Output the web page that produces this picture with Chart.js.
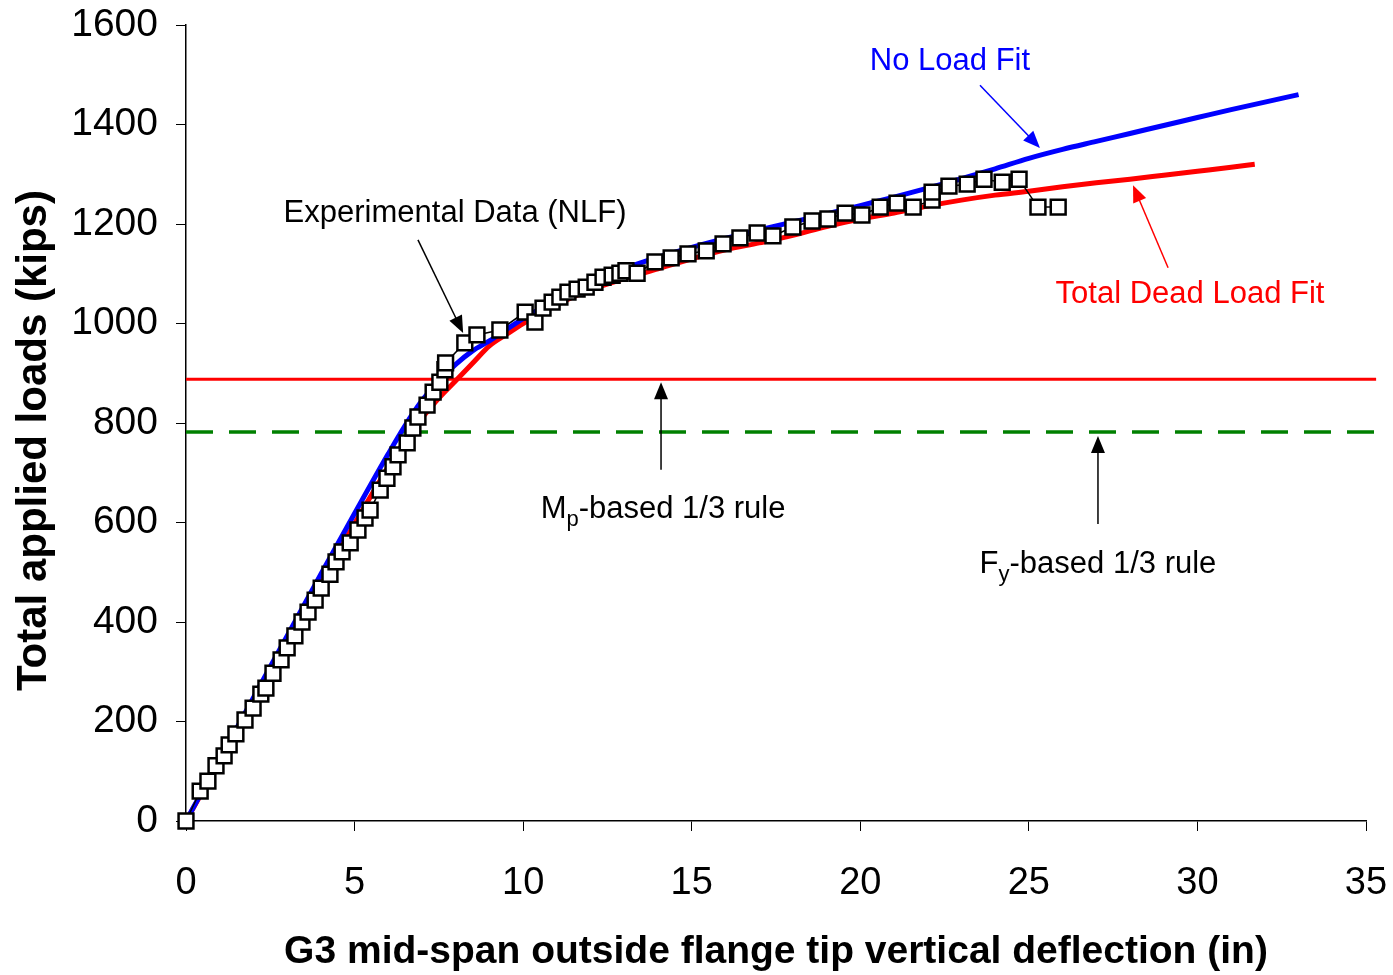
<!DOCTYPE html>
<html>
<head>
<meta charset="utf-8">
<script src="https://cdn.jsdelivr.net/npm/chart.js@4/dist/chart.umd.min.js"></script>
<style>
  html, body { margin: 0; padding: 0; background: #fff; }
  canvas { display: block; }
</style>
</head>
<body>
<canvas id="deflection" width="1393" height="975"></canvas>
<script>
// measured load vs. deflection (NLF test)
var expDeflection = [0, 0.42, 0.65, 0.89, 1.13, 1.28, 1.48, 1.75, 1.99, 2.22, 2.37, 2.58, 2.82, 3.00, 3.23, 3.44, 3.62, 3.83, 4.01, 4.27,
    4.45, 4.63, 4.87, 5.10, 5.31, 5.46, 5.76, 5.96, 6.14, 6.29, 6.56, 6.73, 6.88, 7.15, 7.33, 7.53, 7.68, 7.70, 8.27, 8.63,
    9.31, 10.06, 10.35, 10.59, 10.86, 11.09, 11.33, 11.60, 11.87, 12.13, 12.37, 12.64, 12.87, 13.05, 13.38, 13.91, 14.39, 14.89, 15.43, 15.93,
    16.43, 16.94, 17.41, 18.00, 18.57, 19.04, 19.55, 20.05, 20.59, 21.09, 21.57, 22.13, 22.13, 22.63, 23.17, 23.67, 24.21, 24.71, 25.27, 25.87];
var expLoad = [0, 60, 80, 111, 131, 153, 175, 203, 227, 255, 267, 297, 324, 348, 372, 400, 420, 444, 468, 496,
    521, 541, 559, 585, 609, 625, 665, 689, 712, 736, 760, 790, 812, 836, 862, 882, 907, 921, 961, 977,
    987, 1023, 1003, 1031, 1043, 1053, 1063, 1069, 1073, 1083, 1093, 1097, 1101, 1106, 1101, 1124, 1132, 1140, 1146, 1160,
    1172, 1182, 1176, 1194, 1206, 1210, 1222, 1218, 1234, 1242, 1234, 1248, 1264, 1276, 1280, 1290, 1284, 1290, 1234, 1234];

// no load fit
var noLoadDeflection = [0, 1, 2, 3, 4, 5, 6, 6.5, 7, 7.5, 8, 8.5, 9, 9.5, 10, 11, 12, 13, 14, 15,
    16, 17, 18, 19, 20, 21, 22, 23, 24, 25, 26, 27, 28, 29, 30, 31, 32, 33];
var noLoadLoad = [0, 124, 248, 372, 496, 618, 738, 795, 845, 885, 918, 945, 965, 988, 1010, 1048, 1080, 1110, 1133, 1153,
    1171, 1188, 1204, 1220, 1237, 1254, 1272, 1291, 1311, 1332, 1350, 1366, 1382, 1398, 1414, 1430, 1445, 1460];

// total dead load fit
var deadLoadDeflection = [0, 1, 2, 3, 4, 5, 5.5, 6, 6.5, 7, 7.5, 8, 8.5, 9, 9.5, 10, 11, 12, 13, 14,
    15, 16, 17, 18, 19, 20, 21, 22, 23, 24, 25, 26, 27, 28, 29, 30, 31, 31.7];
var deadLoadLoad = [0, 120, 240, 360, 480, 598, 655, 712, 765, 810, 850, 885, 920, 955, 978, 1000, 1038, 1068, 1090, 1110,
    1130, 1148, 1162, 1177, 1195, 1210, 1222, 1236, 1248, 1258, 1266, 1275, 1283, 1290, 1298, 1306, 1314, 1320];

// 1/3 rule capacities (kips)
var mpRuleLoad = 888;
var fyRuleLoad = 782;
var ruleSpan = [0, 35.3];

var xTicks = [0, 5, 10, 15, 20, 25, 30, 35];
var yTicks = [0, 200, 400, 600, 800, 1000, 1200, 1400, 1600];

function pairs(xs, ys) {
    return xs.map(function (x, i) { return { x: x, y: ys[i] }; });
}

var FONT = "'Liberation Sans', Arial, sans-serif";

function arrow(ctx, x1, y1, x2, y2, color, width) {
    var ang = Math.atan2(y2 - y1, x2 - x1);
    var len = 17, half = 7;
    ctx.save();
    ctx.strokeStyle = color;
    ctx.fillStyle = color;
    ctx.lineWidth = width;
    ctx.beginPath();
    ctx.moveTo(x1, y1);
    ctx.lineTo(x2 - Math.cos(ang) * len * 0.8, y2 - Math.sin(ang) * len * 0.8);
    ctx.stroke();
    ctx.beginPath();
    ctx.moveTo(x2, y2);
    ctx.lineTo(x2 - Math.cos(ang) * len - Math.sin(ang) * half, y2 - Math.sin(ang) * len + Math.cos(ang) * half);
    ctx.lineTo(x2 - Math.cos(ang) * len + Math.sin(ang) * half, y2 - Math.sin(ang) * len - Math.cos(ang) * half);
    ctx.closePath();
    ctx.fill();
    ctx.restore();
}

// text like "M_p-based 1/3 rule", centred on cx
function subText(ctx, main, sub, rest, cx, baseY) {
    ctx.save();
    ctx.fillStyle = '#000';
    ctx.textBaseline = 'alphabetic';
    ctx.textAlign = 'left';
    var big = '31px ' + FONT, small = '22px ' + FONT;
    ctx.font = big;
    var w1 = ctx.measureText(main).width;
    var w3 = ctx.measureText(rest).width;
    ctx.font = small;
    var w2 = ctx.measureText(sub).width;
    var x = cx - (w1 + w2 + w3) / 2;
    ctx.font = big;
    ctx.fillText(main, x, baseY);
    ctx.font = small;
    ctx.fillText(sub, x + w1, baseY + 8);
    ctx.font = big;
    ctx.fillText(rest, x + w1 + w2, baseY);
    ctx.restore();
}

var annotations = {
    id: 'annotations',
    afterDatasetsDraw: function (chart) {
        var ctx = chart.ctx;
        var xs = chart.scales.x, ys = chart.scales.y;
        var px = function (v) { return xs.getPixelForValue(v); };
        var py = function (v) { return ys.getPixelForValue(v); };

        ctx.save();
        ctx.font = '31px ' + FONT;
        ctx.textAlign = 'center';
        ctx.textBaseline = 'middle';
        ctx.fillStyle = '#0000ff';
        ctx.fillText('No Load Fit', px(22.66), py(1526));
        ctx.fillStyle = '#000';
        ctx.fillText('Experimental Data (NLF)', px(7.98), py(1222));
        ctx.fillStyle = '#ff0000';
        ctx.fillText('Total Dead Load Fit', px(29.78), py(1059));
        ctx.restore();

        arrow(ctx, px(23.55), py(1479), px(25.33), py(1353), '#0000ff', 1.5);
        arrow(ctx, px(6.88), py(1168), px(8.22), py(981), '#000', 1.5);
        arrow(ctx, px(29.13), py(1112), px(28.09), py(1278), '#ff0000', 1.5);
        arrow(ctx, px(14.09), py(706), px(14.09), py(882), '#000', 1.5);
        arrow(ctx, px(27.05), py(597), px(27.05), py(774), '#000', 1.5);

        subText(ctx, 'M', 'p', '-based 1/3 rule', px(14.15), py(609));
        subText(ctx, 'F', 'y', '-based 1/3 rule', px(27.05), py(498));
    }
};

// keep the plot box fixed; labels may hang over the edges
function noEdgePadding(scale) {
    scale.paddingTop = 0;
    scale.paddingBottom = 0;
    scale.paddingLeft = 0;
    scale.paddingRight = 0;
}

var ctx = document.getElementById('deflection').getContext('2d');
var chart = new Chart(ctx, {
    type: 'scatter',
    data: {
        datasets: [{
            label: 'Experimental Data (NLF)',
            data: pairs(expDeflection, expLoad),
            showLine: true,
            borderColor: '#000',
            borderWidth: 1.5,
            pointStyle: 'rect',
            pointRadius: 10.5,
            pointBorderWidth: 2.5,
            pointBackgroundColor: '#fff',
            pointBorderColor: '#000',
            clip: 14,
            order: 0
        }, {
            label: 'No Load Fit',
            data: pairs(noLoadDeflection, noLoadLoad),
            showLine: true,
            borderColor: '#0000ff',
            borderWidth: 5,
            pointRadius: 0,
            cubicInterpolationMode: 'monotone',
            order: 1
        }, {
            label: 'Total Dead Load Fit',
            data: pairs(deadLoadDeflection, deadLoadLoad),
            showLine: true,
            borderColor: '#ff0000',
            borderWidth: 5,
            pointRadius: 0,
            cubicInterpolationMode: 'monotone',
            order: 2
        }, {
            label: 'Mp-based 1/3 rule',
            data: pairs(ruleSpan, [mpRuleLoad, mpRuleLoad]),
            showLine: true,
            borderColor: '#ff0000',
            borderWidth: 3,
            pointRadius: 0,
            clip: false,
            order: 3
        }, {
            label: 'Fy-based 1/3 rule',
            data: pairs(ruleSpan, [fyRuleLoad, fyRuleLoad]),
            showLine: true,
            borderColor: '#008000',
            borderWidth: 3.5,
            borderDash: [27, 16],
            pointRadius: 0,
            clip: false,
            order: 4
        }]
    },
    options: {
        responsive: false,
        animation: false,
        devicePixelRatio: 1,
        layout: { padding: { top: 25, right: 27, left: 0, bottom: 0 } },
        plugins: {
            legend: { display: false },
            tooltip: { enabled: false }
        },
        scales: {
            x: {
                type: 'linear',
                min: 0,
                max: 35,
                afterBuildTicks: function (scale) {
                    scale.ticks = xTicks.map(function (v) { return { value: v }; });
                },
                afterFit: function (scale) { scale.height = 154; noEdgePadding(scale); },
                border: { display: true, color: '#000', width: 1.5 },
                grid: { drawOnChartArea: false, tickLength: 10, color: '#000', tickWidth: 1 },
                ticks: { color: '#000', padding: 30, maxRotation: 0, font: { family: FONT, size: 38 } },
                title: {
                    display: true,
                    text: 'G3 mid-span outside flange tip vertical deflection (in)',
                    color: '#000',
                    font: { family: FONT, size: 39, weight: 'bold', lineHeight: 1 },
                    padding: { top: 0, bottom: 3 }
                }
            },
            y: {
                type: 'linear',
                min: 0,
                max: 1600,
                afterBuildTicks: function (scale) {
                    scale.ticks = yTicks.map(function (v) { return { value: v }; });
                },
                afterFit: function (scale) { scale.width = 186; noEdgePadding(scale); },
                border: { display: true, color: '#000', width: 1.5 },
                grid: { drawOnChartArea: false, tickLength: 10, color: '#000', tickWidth: 1 },
                ticks: {
                    color: '#000',
                    padding: 18,
                    font: { family: FONT, size: 39 },
                    callback: function (v) { return String(v); }
                },
                title: {
                    display: true,
                    // trailing spaces nudge the rotated title toward the axis bottom
                    text: 'Total applied loads (kips)\u00a0\u00a0\u00a0',
                    color: '#000',
                    font: { family: FONT, size: 42, weight: 'bold', lineHeight: 1 },
                    padding: { top: 13, bottom: 0 }
                }
            }
        }
    },
    plugins: [annotations]
});
</script>
</body>
</html>
